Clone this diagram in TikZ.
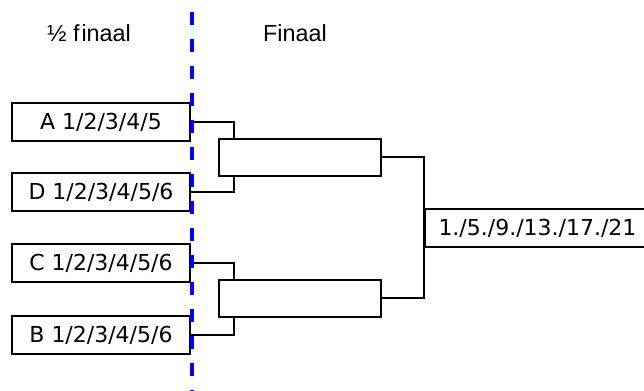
\documentclass[tikz,border=0pt]{standalone}
\usepackage{fontspec}
\setmainfont{DejaVu Sans}
\newfontfamily\headfont{Liberation Sans}
\usepackage{tikz}

\tikzset{
  team/.style={draw, line width=1.5pt, fill=white, inner sep=0pt, minimum width=133.5pt, minimum height=28.5pt, font=\fontsize{16.5}{18}\selectfont},
  match/.style={draw, line width=1.5pt, fill=white, inner sep=0pt, minimum width=121.5pt, minimum height=27.75pt},
  wire/.style={line width=1.5pt},
  heading/.style={anchor=base, font=\headfont\fontsize{17.5}{20}\selectfont}
}

\begin{document}
\begin{tikzpicture}[x=0.75pt,y=0.75pt,yscale=-1,xscale=1]
\useasboundingbox (0,0) rectangle (644,391);

% Text Node
\node[heading] (semi) at (89,42) {½ f\kern1.5pt inaal};
% Text Node
\node[heading] (fin) at (295,42) {Finaal};

%Shape: Rectangle [team boxes]
\node[team] (A) at (101,122) {A 1/2/3/4/5};
\node[team] (D) at (101,192) {D 1/2/3/4/5/6};
\node[team] (C) at (101,263) {C 1/2/3/4/5/6};
\node[team] (B) at (101,335) {B 1/2/3/4/5/6};

%Shape: Rectangle [matches]
\node[match] (m1) at (300,157.5) {};
\node[match] (m2) at (300,298.5) {};

%Shape: Rectangle [winner]
\node[team, minimum width=168.75pt] (W) at (537.5,228) {1./5./9./13./17./21};

%Straight Lines
\draw[wire] (A.east) -| ([xshift=12pt]m1.north west);
\draw[wire] (D.east) -| ([xshift=12pt]m1.south west);
\draw[wire] (C.east) -| ([xshift=12pt]m2.north west);
\draw[wire] (B.east) -| ([xshift=12pt]m2.south west);
\draw[wire] (m1.east) -| (W.west) |- (m2.east);

%Straight Lines [divider]
\draw[color={rgb, 255:red, 0; green, 0; blue, 255}, line width=2.6pt, dash pattern=on 9.75pt off 10.5pt] (192,12) -- (192,391);

\end{tikzpicture}
\end{document}
